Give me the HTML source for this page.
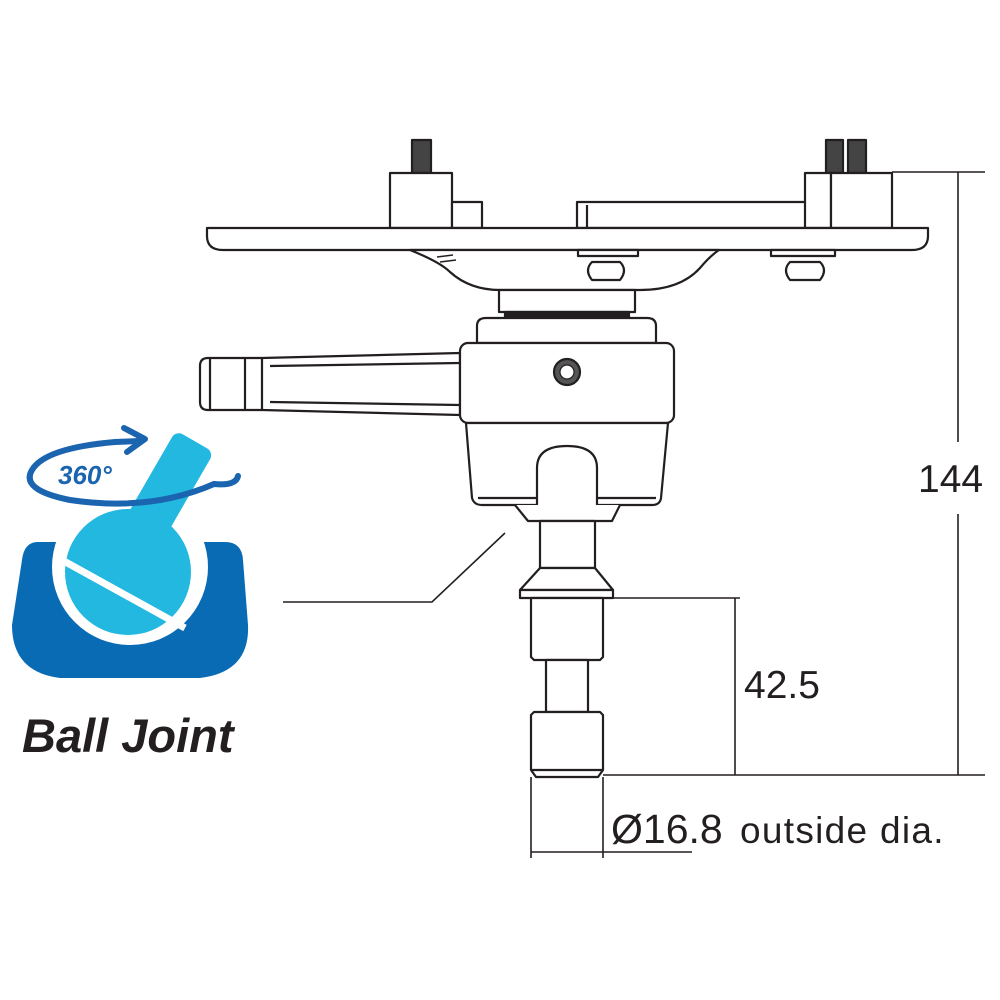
<!DOCTYPE html>
<html><head><style>html,body{margin:0;padding:0;background:#fff}svg{display:block}</style></head>
<body>
<svg width="1000" height="1000" viewBox="0 0 1000 1000" xmlns="http://www.w3.org/2000/svg">
<g fill="#fff" stroke="#231f20" stroke-width="2.2" stroke-linejoin="round">
<rect x="412" y="140" width="19" height="33" fill="#444"/>
<rect x="826" y="140" width="17" height="33" fill="#444"/>
<rect x="848" y="140" width="18" height="33" fill="#444"/>
<rect x="390" y="173" width="62" height="55"/>
<rect x="452" y="202" width="30" height="26"/>
<rect x="577" y="202" width="266" height="26"/>
<line x1="587" y1="205" x2="587" y2="228"/>
<rect x="805" y="173" width="26" height="55"/>
<rect x="831" y="173" width="61" height="55"/>
<path d="M207 228 H928 V236 Q928 250 912 250 H223 Q207 250 207 236 Z"/>
<path d="M410 250 Q440 262 450 272 Q470 290 500 290 H640 Q680 290 700 268 Q710 256 719 250 Z"/>
<path d="M437 257 l16 -2 M440 262 l16 -2" fill="none" stroke-width="1.5"/>
<rect x="578" y="250" width="60" height="6"/>
<path d="M592 262 H620 Q628 270 620 280 H592 Q584 270 592 262 Z"/>
<rect x="771" y="250" width="64" height="6"/>
<path d="M790 262 H820 Q828 270 820 280 H790 Q782 270 790 262 Z"/>
<rect x="499" y="290" width="136" height="22"/>
<rect x="505" y="312" width="124" height="6" fill="#231f20"/>
<path d="M477 343 V326 Q477 318 486 318 H647 Q656 318 656 326 V343 Z"/>
<path d="M460 353 L262 358 H208 Q200 358 200 366 V402 Q200 410 208 410 H262 L460 415 Z"/>
<line x1="262" y1="358" x2="262" y2="410"/>
<line x1="245" y1="358" x2="245" y2="410"/>
<line x1="210" y1="358" x2="210" y2="410"/>
<line x1="270" y1="366" x2="460" y2="363"/>
<line x1="270" y1="402" x2="460" y2="405"/>
<rect x="460" y="343" width="214" height="80" rx="8"/>
<circle cx="567" cy="372" r="13" fill="#555"/>
<circle cx="567" cy="372" r="7" fill="#fff" stroke-width="1.2"/>
<path d="M466 423 L472 498 Q474 505 482 505 H652 Q660 505 661 498 L668 423 Z"/>
<path d="M537 505 V468 Q537 446 567 446 Q597 446 597 468 V505"/>
<line x1="478" y1="498" x2="537" y2="498"/>
<line x1="597" y1="498" x2="656" y2="498"/>
<path d="M515 505 L528 521 H612 L620 505"/>
<rect x="540" y="521" width="55" height="47"/>
<path d="M540 568 H595 L613 590 H520 Z"/>
<rect x="520" y="590" width="93" height="8"/>
<path d="M531 598 H603 V657 L600 660 H534 L531 657 Z"/>
<rect x="546" y="660" width="42" height="52"/>
<path d="M534 712 H600 L603 715 V770 L598 777 H536 L531 770 V715 Z"/>
<line x1="531" y1="770" x2="603" y2="770"/>
</g>
<g stroke="#231f20" stroke-width="1.6" fill="none">
<line x1="531" y1="777" x2="531" y2="858"/>
<line x1="603" y1="777" x2="603" y2="858"/>
<line x1="531" y1="852" x2="692" y2="852"/>
<line x1="603" y1="598" x2="740" y2="598"/>
<line x1="735" y1="598" x2="735" y2="775"/>
<line x1="603" y1="775" x2="985" y2="775"/>
<line x1="892" y1="172" x2="985" y2="172"/>
<line x1="958" y1="172" x2="958" y2="442"/>
<line x1="958" y1="514" x2="958" y2="775"/>
<polyline points="283,602 432,602 505,533"/>
</g>
<g font-family="Liberation Sans, sans-serif" fill="#231f20">
<text x="918" y="492" font-size="39">144</text>
<text x="744" y="698" font-size="39">42.5</text>
<text x="611" y="843" font-size="41">Ø16.8</text>
<text x="740" y="843" font-size="37" letter-spacing="1.3">outside dia.</text>
<text x="22" y="752" font-size="47" font-weight="bold" font-style="italic">Ball Joint</text>
</g>
<path d="M38 542 H82 A72 72 0 0 0 200 542 H225 Q242 542 243 560 L248 625 Q250 672 200 678 H60 Q12 672 12 625 L22 560 Q24 542 38 542 Z" fill="#0a6bb5"/>
<circle cx="130" cy="567" r="78" fill="#fff"/>
<g transform="rotate(30 190 450)">
<rect x="168" y="440" width="44" height="110" rx="8" fill="#22b8e0"/>
</g>
<circle cx="128" cy="572" r="63" fill="#22b8e0"/>
<line x1="62" y1="560" x2="185" y2="628" stroke="#fff" stroke-width="7"/>
<path d="M214 484 Q150 512 70 500 Q20 490 32 470 Q45 448 115 442 L140 441" fill="none" stroke="#1a64b0" stroke-width="6" stroke-linecap="round"/>
<path d="M238 476 Q236 486 214 484" fill="none" stroke="#1a64b0" stroke-width="6" stroke-linecap="round"/>
<path d="M124 428 L145 439 L127 452" fill="none" stroke="#1a64b0" stroke-width="6" stroke-linecap="round" stroke-linejoin="round"/>
<text x="58" y="484" font-family="Liberation Sans, sans-serif" font-size="26" font-weight="bold" font-style="italic" fill="#1a64b0">360°</text>
</svg>
</body></html>
